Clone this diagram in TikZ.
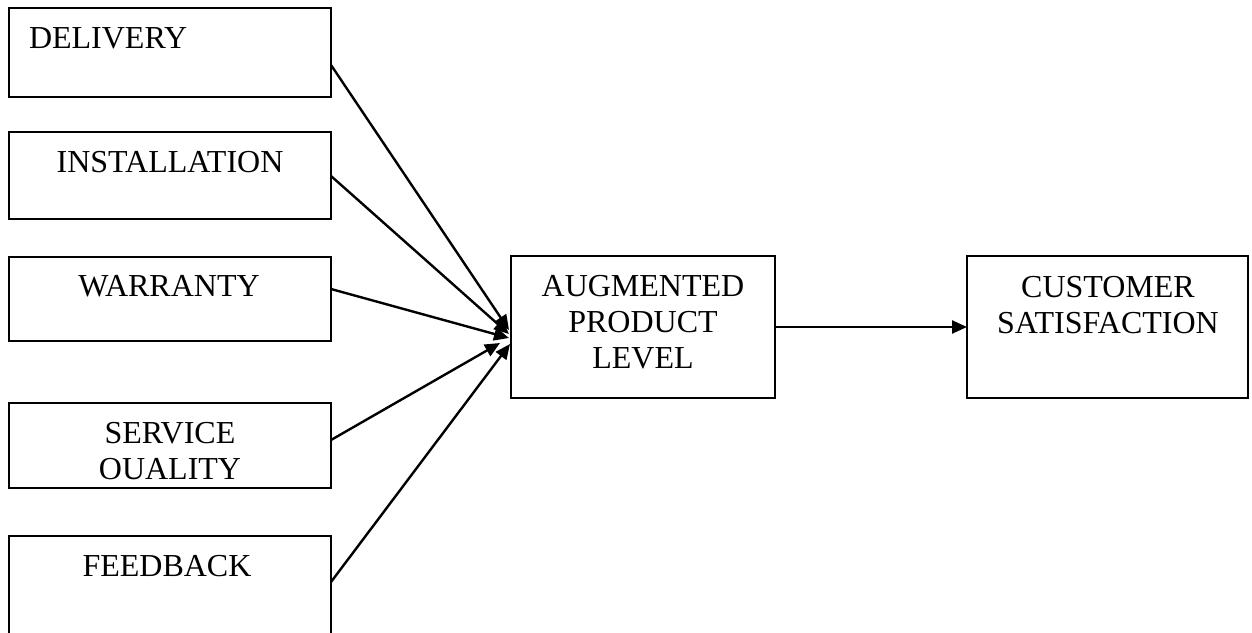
\documentclass[tikz,border=0pt]{standalone}
\usepackage{fontspec}
\setmainfont{Liberation Serif}
\usetikzlibrary{arrows.meta}
\begin{document}
\begin{tikzpicture}[x=1pt,y=-1pt,
  box/.style={draw,line width=2.4pt,rectangle,inner sep=0pt,outer sep=0pt},
  label/.style={inner sep=0pt,outer sep=0pt,align=center,font=\fontsize{32}{36}\selectfont},
  link/.style={line width=2.4pt,-{Triangle[length=15pt,width=13pt]}}]
\useasboundingbox (0,0) rectangle (1252,632);

% input boxes
\node[box,minimum width=322pt,minimum height=89pt]  (dl) at (170,52.5) {};
\node[box,minimum width=322pt,minimum height=87pt]  (in) at (170,175.5) {};
\node[box,minimum width=322pt,minimum height=84pt]  (wa) at (170,299) {};
\node[box,minimum width=322pt,minimum height=85pt]  (sq) at (170,445.5) {};
\node[box,minimum width=322pt,minimum height=104pt] (fb) at (170,588) {};

% central and output boxes
\node[box,minimum width=264pt,minimum height=142pt] (ap) at (643,327) {};
\node[box,minimum width=281pt,minimum height=142pt] (cs) at (1107.5,327) {};

% box texts
\node[label,anchor=north west] (tdl) at (29,28)  {DELIVERY};
\node[label,anchor=north] (tin) at (170,151) {INSTALLATION};
\node[label,anchor=north] (twa) at (169,275) {WARRANTY};
\node[label,anchor=north] (tsq) at (170,422) {SERVICE\\OUALITY};
\node[label,anchor=north] (tfb) at (167,555) {FEEDBACK};
\node[label,anchor=north] (tap) at (643,275) {AUGMENTED\\PRODUCT\\LEVEL};
\node[label,anchor=north] (tcs) at (1108,276) {CUSTOMER\\SATISFACTION};

% connectors
\draw[link] ([yshift=-12.5pt]dl.east) -- ([xshift=-2pt,yshift=-3pt]ap.west);
\draw[link] ([yshift=-0.5pt]in.east)  -- ([xshift=-2pt,yshift=-7pt]ap.west);
\draw[link] ([yshift=10pt]wa.east)    -- ([xshift=-2pt,yshift=-11pt]ap.west);
\draw[link] ([yshift=5.5pt]sq.east)   -- ([xshift=-11pt,yshift=-16pt]ap.west);
\draw[link] ([yshift=6pt]fb.east)     -- ([xshift=-1pt,yshift=-17pt]ap.west);
\draw[link] (ap.east) -- (cs.west);
\end{tikzpicture}
\end{document}
